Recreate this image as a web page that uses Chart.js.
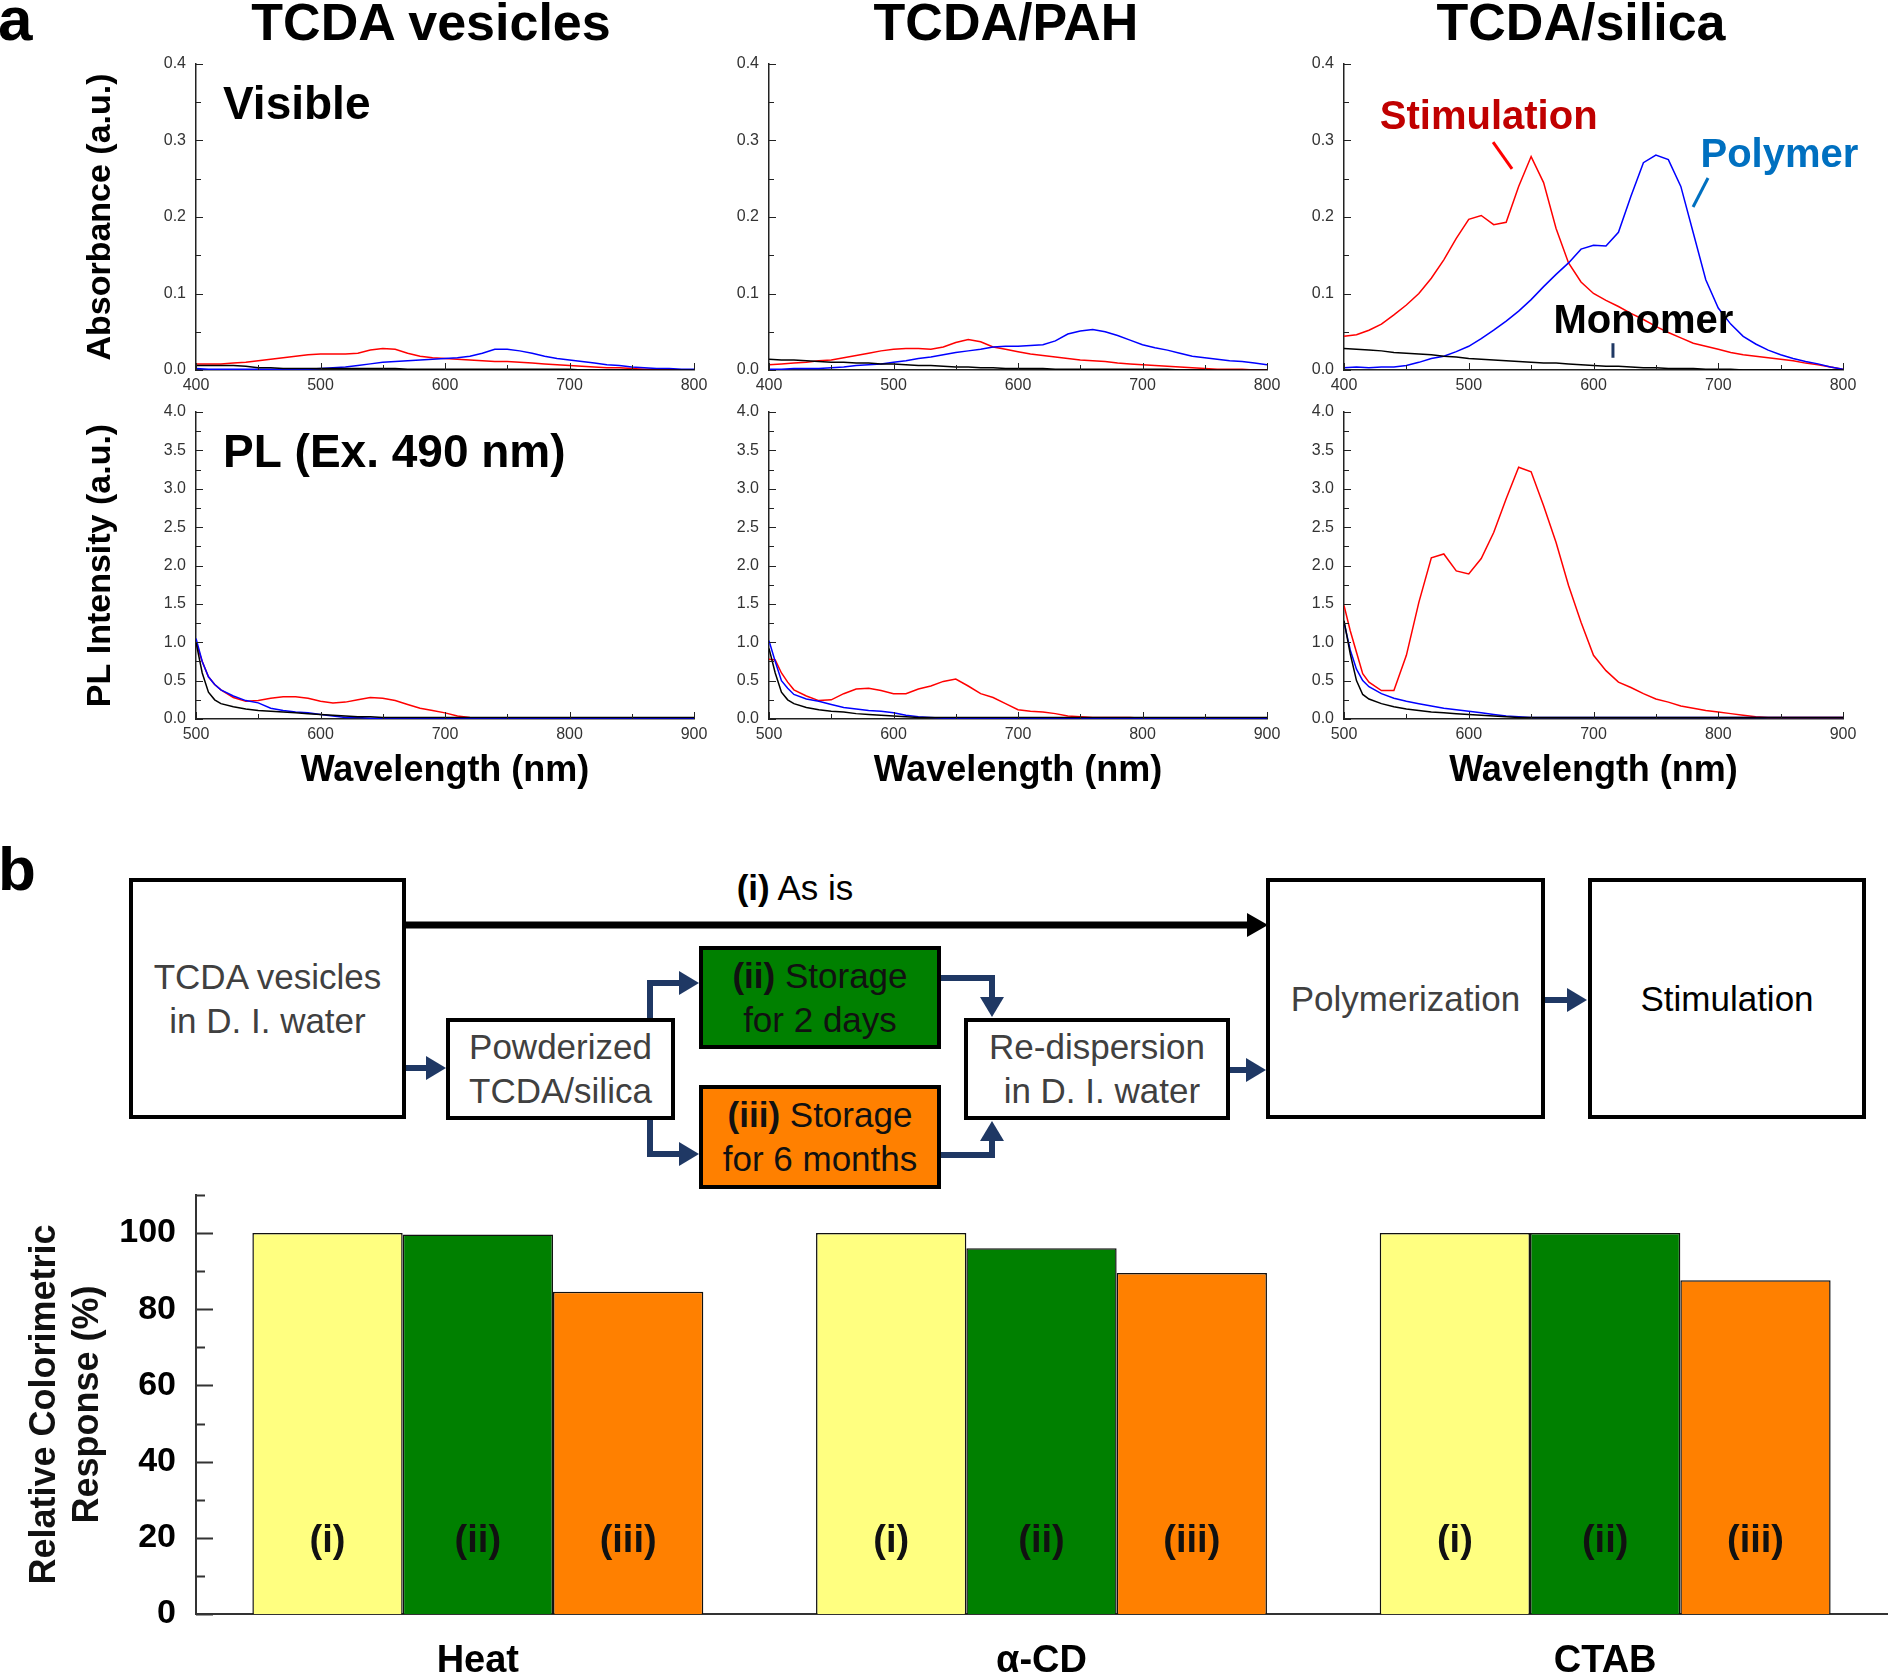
<!DOCTYPE html>
<html>
<head>
<meta charset="utf-8">
<script src="https://cdn.jsdelivr.net/npm/chart.js@4.4.0/dist/chart.umd.min.js"></script>
<style>
body { margin: 0; background: #fff; width: 1889px; height: 1679px; position: relative; overflow: hidden; font-family: "Liberation Sans", Arial, sans-serif; }
canvas { position: absolute; }
.lbl { position: absolute; font-weight: bold; color: #000; line-height: 1; white-space: nowrap; }
.ttl { position: absolute; font-weight: bold; font-size: 52px; line-height: 1; top: -4px; transform: translateX(-50%); white-space: nowrap; }
.box { position: absolute; box-sizing: border-box; border: 4px solid #000; display: flex; align-items: center; justify-content: center; text-align: center; font-size: 35px; line-height: 44px; color: #404040; background: #fff; }
svg { position: absolute; left: 0; top: 0; }
</style>
</head>
<body>

<div class="lbl" style="left:-2px; top:-12px; font-size:62px;">a</div>
<div class="ttl" style="left:431px;">TCDA vesicles</div>
<div class="ttl" style="left:1006px;">TCDA/PAH</div>
<div class="ttl" style="left:1581px;">TCDA/silica</div>

<canvas id="absVes"></canvas>
<canvas id="absPah"></canvas>
<canvas id="absSil"></canvas>
<canvas id="plVes"></canvas>
<canvas id="plPah"></canvas>
<canvas id="plSil"></canvas>

<div class="lbl" style="left:-2px; top:838px; font-size:62px;">b</div>
<canvas id="bars" style="left:0; top:1154px;"></canvas>

<!-- scheme -->
<div class="lbl" style="left:795px; top:870px; font-size:35px; font-weight:normal; transform:translateX(-50%);"><b>(i)</b> As is</div>
<div class="box" style="left:129px; top:878px; width:277px; height:241px;">TCDA vesicles<br>in D. I. water</div>
<div class="box" style="left:446px; top:1018px; width:229px; height:102px;">Powderized<br>TCDA/silica</div>
<div class="box" style="left:699px; top:946px; width:242px; height:103px; background:#008000; color:#111;"><span><b>(ii)</b> Storage<br>for 2 days</span></div>
<div class="box" style="left:699px; top:1085px; width:242px; height:104px; background:#ff8000; color:#111;"><span><b>(iii)</b> Storage<br>for 6 months</span></div>
<div class="box" style="left:964px; top:1018px; width:266px; height:102px;">Re-dispersion<br>&nbsp;in D. I. water</div>
<div class="box" style="left:1266px; top:878px; width:279px; height:241px;">Polymerization</div>
<div class="box" style="left:1588px; top:878px; width:278px; height:241px; color:#000;">Stimulation</div>

<svg width="1889" height="1679">
  <line x1="406" y1="925" x2="1250" y2="925" stroke="#000" stroke-width="7"/>
  <polygon points="1247,913 1268,925 1247,937" fill="#000"/>
  <g fill="none" stroke="#1f3864" stroke-width="6">
    <path d="M406,1068 H430"/>
    <path d="M650,1018 V983 H682"/>
    <path d="M650,1120 V1154 H682"/>
    <path d="M941,978 H992 V1000"/>
    <path d="M941,1155 H992 V1138"/>
    <path d="M1230,1070 H1250"/>
    <path d="M1545,1000 H1570"/>
  </g>
  <g fill="#1f3864">
    <polygon points="426,1056 446,1068 426,1080"/>
    <polygon points="679,971 699,983 679,995"/>
    <polygon points="679,1142 699,1154 679,1166"/>
    <polygon points="980,997 992,1017 1004,997"/>
    <polygon points="980,1141 992,1121 1004,1141"/>
    <polygon points="1246,1058 1266,1070 1246,1082"/>
    <polygon points="1567,988 1587,1000 1567,1012"/>
  </g>
</svg>

<script>
const F = '"Liberation Sans", Arial, sans-serif';
Chart.defaults.font.family = F;

// absorbance, 400-800 nm
const absX = [400,410,420,430,440,450,460,470,480,490,500,510,520,530,540,550,560,570,580,590,600,610,620,630,640,650,660,670,680,690,700,710,720,730,740,750,760,770,780,790,800];

const vesStim = [.008,.008,.008,.009,.010,.012,.014,.016,.018,.020, .021,.021,.021,.022,.026,.028,.027,.022,.018,.016, .015,.014,.013,.012,.011,.011,.010,.009,.008,.007, .006,.005,.004,.003,.003,.002,.001,.001,.001,.000, .000];
const vesPoly = [.002,.001,.001,.001,.001,.001,.001,.001,.001,.001, .002,.003,.004,.006,.008,.010,.011,.012,.013,.014, .015,.016,.018,.022,.027,.027,.025,.022,.018,.015, .013,.011,.009,.007,.006,.004,.003,.002,.002,.001, .001];
const vesMono = [.006,.006,.006,.006,.005,.003,.003,.002,.002,.002, .002,.002,.002,.002,.002,.002,.002,.001,.001,.001, .001,.001,.001,.001,.001,.001,.001,.001,.001,.001, .001,.000,.000,.000,.000,.000,.000,.000,.000,.000, .000];

const pahStim = [.007,.008,.009,.010,.012,.013,.016,.019,.022,.025, .027,.028,.028,.027,.030,.036,.040,.037,.030,.027, .024,.021,.019,.017,.015,.013,.012,.011,.009,.008, .007,.006,.005,.004,.003,.002,.001,.001,.001,.000, .000];
const pahPoly = [.001,.001,.002,.002,.002,.003,.004,.006,.007,.008, .010,.012,.015,.017,.020,.023,.025,.027,.030,.031, .031,.032,.033,.038,.047,.051,.053,.050,.045,.039, .033,.029,.026,.022,.018,.016,.014,.012,.011,.009, .007];
const pahMono = [.014,.013,.013,.012,.011,.010,.010,.009,.009,.008, .008,.007,.006,.006,.005,.004,.004,.003,.003,.002, .002,.002,.002,.001,.001,.001,.001,.001,.001,.001, .001,.001,.001,.000,.000,.000,.000,.000,.000,.000, .000];

const silStim = [.044,.046,.052,.060,.072,.085,.100,.120,.144,.172, .197,.202,.190,.193,.240,.279,.245,.185,.140,.115, .100,.091,.083,.074,.066,.057,.049,.042,.035,.031, .027,.023,.020,.018,.016,.014,.012,.009,.007,.004, .001];
const silPoly = [.003,.004,.003,.004,.004,.006,.010,.015,.018,.024, .031,.041,.052,.064,.077,.092,.109,.125,.140,.158, .163,.162,.180,.227,.271,.281,.275,.240,.179,.118, .081,.060,.044,.034,.026,.020,.015,.011,.008,.004, .001];
const silMono = [.028,.027,.026,.025,.023,.022,.021,.020,.018,.017, .015,.014,.013,.012,.011,.010,.009,.009,.008,.007, .006,.005,.005,.004,.003,.003,.002,.002,.002,.001, .001,.001,.000,.000,.000,.000,.000,.000,.000,.000, .000];

// PL, 500-900 nm
const plX = [500,505,510,515,520,530,540,550,560,570,580,590,600,610,620,630,640,650,660,670,680,690,700,710,720,730,740,750,760,770,780,790,800,810,820,830,840,850,860,870,880,890,900];

const plVesStim = [1.00,.75,.55,.45,.38, .28,.23,.24,.27,.29, .29,.27,.23,.21,.22, .25,.28,.27,.24,.19, .14,.11,.08,.04,.02, .01,.01,.01,.01,.01, .01,.01,.01,.01,.01, .01,.01,.01,.01,.01, .01,.01,.01];
const plVesPoly = [1.05,.75,.55,.45,.38, .30,.24,.21,.14,.11, .09,.08,.06,.04,.02, .02,.01,.01,.01,.01, .01,.01,.01,.01,.01, .01,.01,.01,.01,.01, .01,.01,.01,.01,.01, .01,.01,.01,.01,.01, .01,.01,.01];
const plVesMono = [1.00,.60,.35,.25,.20, .16,.13,.11,.10,.09, .08,.07,.06,.05,.04, .03,.03,.02,.02,.02, .02,.02,.02,.02,.02, .02,.02,.02,.02,.02, .02,.02,.02,.02,.02, .02,.02,.02,.02,.02, .02,.02,.02];

const plPahStim = [.78,.77,.60,.48,.38, .30,.24,.25,.33,.39, .40,.37,.33,.33,.39, .43,.49,.52,.43,.33, .28,.20,.12,.10,.09, .07,.04,.03,.02,.02, .02,.02,.01,.01,.01, .01,.01,.01,.01,.01, .01,.01,.01];
const plPahPoly = [1.02,.75,.50,.40,.32, .26,.23,.19,.15,.13, .11,.10,.08,.05,.03, .02,.01,.01,.01,.01, .01,.01,.01,.01,.01, .01,.01,.01,.01,.01, .01,.01,.01,.01,.01, .01,.01,.01,.01,.01, .01,.01,.01];
const plPahMono = [.92,.60,.35,.25,.20, .15,.12,.10,.09,.07, .06,.05,.04,.03,.02, .02,.02,.02,.02,.02, .02,.02,.02,.02,.02, .02,.02,.02,.02,.02, .02,.02,.02,.02,.02, .02,.02,.02,.02,.02, .02,.02,.02];

const plSilStim = [1.48,1.15,.87,.59,.48, .37,.37,.83,1.52,2.10, 2.15,1.93,1.89,2.09,2.43, 2.87,3.28,3.22,2.78,2.30, 1.74,1.26,.83,.63,.48, .41,.33,.26,.22,.17, .14,.11,.09,.07,.05, .03,.02,.02,.02,.02, .02,.02,.02];
const plSilPoly = [1.26,.90,.65,.50,.42, .33,.27,.23,.20,.17, .14,.12,.10,.08,.06, .04,.03,.02,.02,.02, .02,.02,.02,.02,.02, .02,.02,.02,.02,.02, .02,.02,.02,.02,.02, .02,.02,.02,.02,.02, .02,.02,.02];
const plSilMono = [1.28,.85,.50,.32,.26, .20,.16,.13,.11,.09, .08,.07,.06,.05,.04, .03,.02,.02,.02,.02, .02,.02,.02,.02,.02, .02,.02,.02,.02,.02, .02,.02,.02,.02,.02, .02,.02,.02,.02,.02, .02,.02,.02];

// bar chart
const groups = ['Heat', 'α-CD', 'CTAB'];
const asIs = [100, 100, 100];
const days2 = [99.6, 96.0, 100];
const months6 = [84.6, 89.5, 87.6];
const barTags = ['(i)', '(ii)', '(iii)'];

// ticks drawn inward, with minor ticks
function innerTicks(t) {
    return {
        id: 'innerTicks',
        afterDraw(chart) {
            const {ctx, chartArea: a} = chart;
            ctx.save();
            ctx.strokeStyle = t.color;
            ctx.lineWidth = t.width;
            ctx.beginPath();
            if (t.x) {
                const s = chart.scales.x, every = Math.round(t.x[0] / t.x[1]);
                for (let k = 0; s.min + k * t.x[1] <= s.max + 1e-6; k++) {
                    const px = Math.round(s.getPixelForValue(s.min + k * t.x[1])) + 0.5;
                    ctx.moveTo(px, a.bottom);
                    ctx.lineTo(px, a.bottom - (k % every === 0 ? t.len : t.minor));
                }
            }
            if (t.y) {
                const s = chart.scales.y, every = Math.round(t.y[0] / t.y[1]);
                for (let k = 0; s.min + k * t.y[1] <= s.max + 1e-6; k++) {
                    const py = Math.round(s.getPixelForValue(s.min + k * t.y[1])) + 0.5;
                    ctx.moveTo(a.left, py);
                    ctx.lineTo(a.left + (k % every === 0 ? t.len : t.minor), py);
                }
            }
            ctx.stroke();
            ctx.restore();
        }
    };
}

// labels and pointer strokes placed in data coordinates
function notes(n) {
    return {
        id: 'notes',
        afterDatasetsDraw(chart) {
            const {ctx} = chart, x = chart.scales.x, y = chart.scales.y;
            ctx.save();
            (n.lines || []).forEach(l => {
                ctx.strokeStyle = l.c;
                ctx.lineWidth = l.w;
                ctx.beginPath();
                ctx.moveTo(x.getPixelForValue(l.x1), y.getPixelForValue(l.y1));
                ctx.lineTo(x.getPixelForValue(l.x2), y.getPixelForValue(l.y2));
                ctx.stroke();
            });
            (n.texts || []).forEach(t => {
                ctx.font = 'bold ' + t.size + 'px ' + F;
                ctx.fillStyle = t.c || '#000';
                ctx.textAlign = t.align || 'center';
                ctx.textBaseline = 'middle';
                ctx.fillText(t.text, x.getPixelForValue(t.x), y.getPixelForValue(t.y));
            });
            ctx.restore();
        }
    };
}

function spectrum(id, o) {
    const yw = o.yTitle ? 156 : 60;
    const xh = o.xTitle ? 81 : 30;
    const padTop = 20;
    const cv = document.getElementById(id);
    cv.width = yw + o.w + 26;
    cv.height = padTop + o.h + xh;
    cv.style.left = (o.left - yw) + 'px';
    cv.style.top = (o.top - padTop) + 'px';
    const colors = ['#ff0000', '#0000ff', '#000000'];
    return new Chart(cv, {
        type: 'line',
        data: {
            datasets: o.series.map((s, i) => ({
                data: s.map((v, j) => ({x: o.x[j], y: v})),
                borderColor: colors[i],
                borderWidth: 1.5,
                pointRadius: 0,
                tension: 0
            })).reverse()
        },
        options: {
            responsive: false,
            animation: false,
            events: [],
            layout: {padding: {top: padTop, right: 26, left: 0, bottom: 0}},
            plugins: {legend: {display: false}, tooltip: {enabled: false}},
            scales: {
                x: {
                    type: 'linear', min: o.x[0], max: o.x[o.x.length - 1],
                    afterFit: s => { s.height = xh; },
                    grid: {display: false, drawTicks: false},
                    border: {color: '#222', width: 1.5},
                    ticks: {stepSize: 100, padding: 6, color: '#333', font: {size: 16}},
                    title: {
                        display: !!o.xTitle, text: 'Wavelength (nm)', color: '#000',
                        font: {size: 36, weight: 'bold'}, padding: {top: 0, bottom: 7}
                    }
                },
                y: {
                    min: 0, max: o.yMax,
                    afterFit: s => { s.width = yw; },
                    grid: {display: false, drawTicks: false},
                    border: {color: '#222', width: 1.5},
                    ticks: {stepSize: o.yStep, padding: 10, color: '#333', font: {size: 16}, callback: v => v.toFixed(1)},
                    title: {
                        display: !!o.yTitle, text: o.yTitle || '', color: '#000',
                        font: {size: 34, weight: 'bold'}, padding: {top: 40, bottom: 0}
                    }
                }
            }
        },
        plugins: [innerTicks({x: [100, 50], y: [o.yStep, o.yStep / 2], len: 7, minor: 5, color: '#222', width: 1}), notes(o.notes || {})]
    });
}

const cols = [196, 769, 1344];

spectrum('absVes', {left: cols[0], top: 64, w: 498, h: 306, x: absX, yMax: 0.4, yStep: 0.1,
    yTitle: 'Absorbance (a.u.)', series: [vesStim, vesPoly, vesMono],
    notes: {texts: [{text: 'Visible', x: 421.7, y: 0.345, size: 46, align: 'left'}]}});
spectrum('absPah', {left: cols[1], top: 64, w: 498, h: 306, x: absX, yMax: 0.4, yStep: 0.1,
    series: [pahStim, pahPoly, pahMono]});
spectrum('absSil', {left: cols[2], top: 64, w: 499, h: 306, x: absX, yMax: 0.4, yStep: 0.1,
    series: [silStim, silPoly, silMono],
    notes: {
        lines: [
            {x1: 519.5, y1: 0.298, x2: 534.7, y2: 0.263, c: '#ff0000', w: 3},
            {x1: 691.8, y1: 0.251, x2: 679.8, y2: 0.213, c: '#0070c0', w: 3},
            {x1: 615.6, y1: 0.035, x2: 615.6, y2: 0.016, c: '#1f3864', w: 3}
        ],
        texts: [
            {text: 'Stimulation', x: 516, y: 0.330, size: 40, c: '#c00000'},
            {text: 'Polymer', x: 749, y: 0.280, size: 40, c: '#0070c0'},
            {text: 'Monomer', x: 640, y: 0.063, size: 40, c: '#000'}
        ]
    }});

spectrum('plVes', {left: cols[0], top: 412, w: 498, h: 307, x: plX, yMax: 4, yStep: 0.5,
    yTitle: 'PL Intensity (a.u.)', xTitle: true, series: [plVesStim, plVesPoly, plVesMono],
    notes: {texts: [{text: 'PL (Ex. 490 nm)', x: 521.7, y: 3.45, size: 46, align: 'left'}]}});
spectrum('plPah', {left: cols[1], top: 412, w: 498, h: 307, x: plX, yMax: 4, yStep: 0.5,
    xTitle: true, series: [plPahStim, plPahPoly, plPahMono]});
spectrum('plSil', {left: cols[2], top: 412, w: 499, h: 307, x: plX, yMax: 4, yStep: 0.5,
    xTitle: true, series: [plSilStim, plSilPoly, plSilMono]});

// bar chart of relative colorimetric response
const barCv = document.getElementById('bars');
barCv.width = 1889;
barCv.height = 525;

const barTagPlugin = {
    id: 'barTags',
    afterDatasetsDraw(chart) {
        const {ctx} = chart, y = chart.scales.y;
        ctx.save();
        ctx.font = 'bold 38px ' + F;
        ctx.fillStyle = '#111';
        ctx.textAlign = 'center';
        ctx.textBaseline = 'middle';
        chart.data.datasets.forEach((ds, i) => {
            chart.getDatasetMeta(i).data.forEach(bar => {
                ctx.fillText(barTags[i], bar.x, y.getPixelForValue(19));
            });
        });
        ctx.restore();
    }
};

new Chart(barCv, {
    type: 'bar',
    data: {
        labels: groups,
        datasets: [
            {label: '(i) As is', data: asIs, backgroundColor: '#ffff80'},
            {label: '(ii) 2 days', data: days2, backgroundColor: '#008000'},
            {label: '(iii) 6 months', data: months6, backgroundColor: '#ff8000'}
        ].map(d => Object.assign(d, {borderColor: '#111', borderWidth: 1.5, barPercentage: 1, categoryPercentage: 0.8}))
    },
    options: {
        responsive: false,
        animation: false,
        events: [],
        layout: {padding: {top: 41, right: 2, left: 0, bottom: 0}},
        plugins: {legend: {display: false}, tooltip: {enabled: false}},
        scales: {
            x: {
                afterFit: s => { s.height = 65; },
                grid: {display: false, drawTicks: false},
                border: {color: '#333', width: 2},
                ticks: {padding: 25, color: '#000', font: {size: 38, weight: 'bold'}}
            },
            y: {
                min: 0, max: 110,
                afterFit: s => { s.width = 196; },
                grid: {display: false, drawTicks: false},
                border: {color: '#333', width: 2},
                ticks: {stepSize: 20, includeBounds: false, autoSkip: false, padding: 20, color: '#000', font: {size: 34, weight: 'bold'}},
                title: {
                    display: true, text: ['Relative Colorimetric', 'Response (%)'], color: '#111',
                    font: {size: 36, weight: 'bold', lineHeight: 1.2}, padding: {top: 23, bottom: 0}
                }
            }
        }
    },
    plugins: [innerTicks({y: [20, 10], len: 17, minor: 9, color: '#333', width: 2}), barTagPlugin]
});
</script>
</body>
</html>
